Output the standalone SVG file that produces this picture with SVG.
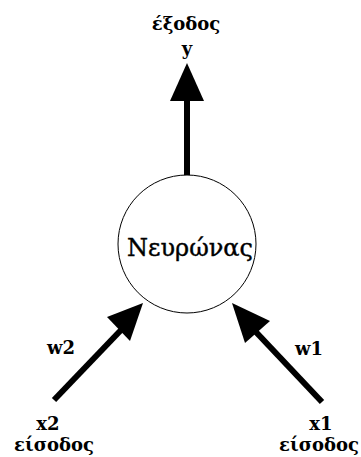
<svg xmlns="http://www.w3.org/2000/svg" width="361" height="457" viewBox="0 0 361 457">
  <style>
    text { font-family: "DejaVu Serif", "Liberation Serif", serif; fill: #000; text-anchor: middle; }
    .lbl { font-size: 18px; font-weight: bold; }
    .main { font-size: 24px; stroke: #000; stroke-width: 0.4; }
    .shaft { stroke: #000; stroke-width: 6; fill: none; }
    .head { fill: #000; stroke: none; }
  </style>
  <rect width="361" height="457" fill="#fff"/>

  <g id="connectors">
    <!-- output arrow -->
    <g id="edge-out">
      <line class="shaft" x1="187" y1="177" x2="187" y2="95"/>
      <polygon class="head" points="187,63 204,101 170,101"/>
    </g>
    <!-- input x2 -->
    <g id="edge-x2">
      <line class="shaft" x1="54" y1="400" x2="122" y2="329"/>
      <polygon class="head" points="143,303 130,341 107,317"/>
    </g>
    <!-- input x1 -->
    <g id="edge-x1">
      <line class="shaft" x1="322" y1="402" x2="255" y2="331"/>
      <polygon class="head" points="232,303 270,321 245,343"/>
    </g>
  </g>

  <g id="neuron">
    <circle cx="187" cy="244" r="69" fill="#fff" stroke="#000" stroke-width="1"/>
    <text class="main" x="190" y="256">Νευρώνας</text>
  </g>

  <g id="output">
    <text class="lbl" x="186" y="30">έξοδος</text>
    <text class="lbl" x="187" y="55">y</text>
  </g>

  <g id="input-x2">
    <text class="lbl" x="61" y="354">w2</text>
    <text class="lbl" x="48" y="430">x2</text>
    <text class="lbl" x="54" y="451">είσοδος</text>
  </g>

  <g id="input-x1">
    <text class="lbl" x="309" y="355">w1</text>
    <text class="lbl" x="321" y="430">x1</text>
    <text class="lbl" x="319" y="451">είσοδος</text>
  </g>
</svg>
